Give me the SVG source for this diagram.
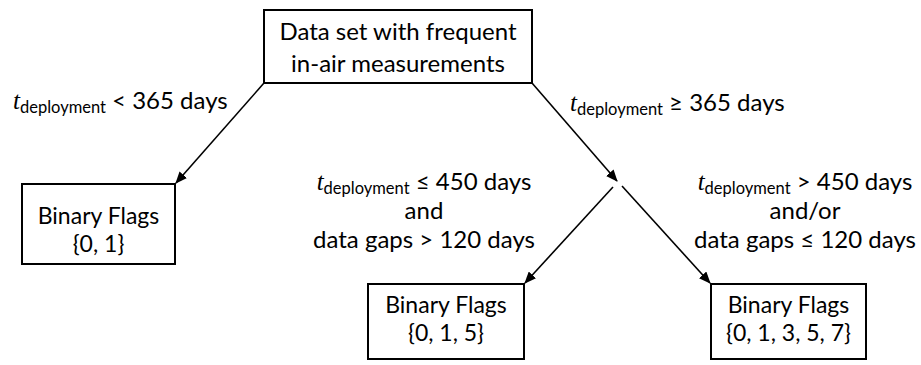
<svg xmlns="http://www.w3.org/2000/svg" width="921" height="365" viewBox="0 0 921 365">
<style>
.box{fill:#fff;stroke:#000;stroke-width:2}
.t{font-family:Lato,"Open Sans",sans-serif;font-size:24px;fill:#000}
.b{font-size:23px}
.c{text-anchor:middle}
.it{font-family:"Liberation Serif",serif;font-style:italic;font-size:25px}
.sub{font-size:16.5px}
.conn{stroke:#000;stroke-width:1.6;fill:none;marker-end:url(#ah)}
</style>
<defs>
<marker id="ah" markerWidth="12" markerHeight="10" refX="11" refY="5" orient="auto" markerUnits="userSpaceOnUse">
<path d="M0,0 L12,5 L0,10 Z" fill="#000"/>
</marker>
</defs>
<g id="connectors">
<line class="conn" x1="264" y1="83" x2="176" y2="183"/>
<line class="conn" x1="532" y1="83" x2="617" y2="181"/>
<line class="conn" x1="613" y1="187" x2="525" y2="283"/>
<line class="conn" x1="622" y1="186" x2="710" y2="283"/>
</g>
<g id="root">
<rect class="box" x="264" y="10" width="268" height="73"/>
<text class="t c" x="398" y="40">Data set with frequent</text>
<text class="t c" x="398" y="72">in-air measurements</text>
</g>
<g id="flags01">
<rect class="box" x="22" y="184" width="153" height="80"/>
<text class="t b c" x="98.5" y="224">Binary Flags</text>
<text class="t b c" x="98.5" y="252">{0, 1}</text>
</g>
<g id="flags015">
<rect class="box" x="368" y="284" width="156" height="75"/>
<text class="t b c" x="446" y="313">Binary Flags</text>
<text class="t b c" x="446" y="341">{0, 1, 5}</text>
</g>
<g id="flags01357">
<rect class="box" x="711" y="284" width="155" height="75"/>
<text class="t b c" x="788.5" y="313">Binary Flags</text>
<text class="t b c" x="788.5" y="341">{0, 1, 3, 5, 7}</text>
</g>
<g id="labels">
<text class="t" x="13" y="109"><tspan class="it">t</tspan><tspan class="sub" dy="4">deployment</tspan><tspan dy="-4"> &lt; 365 days</tspan></text>
<text class="t" x="570" y="111"><tspan class="it">t</tspan><tspan class="sub" dy="4">deployment</tspan><tspan dy="-4"> ≥ 365 days</tspan></text>
<text class="t c" x="424" y="190"><tspan class="it">t</tspan><tspan class="sub" dy="4">deployment</tspan><tspan dy="-4"> ≤ 450 days</tspan></text>
<text class="t c" x="424" y="219">and</text>
<text class="t c" x="424" y="248">data gaps &gt; 120 days</text>
<text class="t c" x="805" y="190"><tspan class="it">t</tspan><tspan class="sub" dy="4">deployment</tspan><tspan dy="-4"> &gt; 450 days</tspan></text>
<text class="t c" x="805" y="219">and/or</text>
<text class="t c" x="805" y="248">data gaps ≤ 120 days</text>
</g>
</svg>
